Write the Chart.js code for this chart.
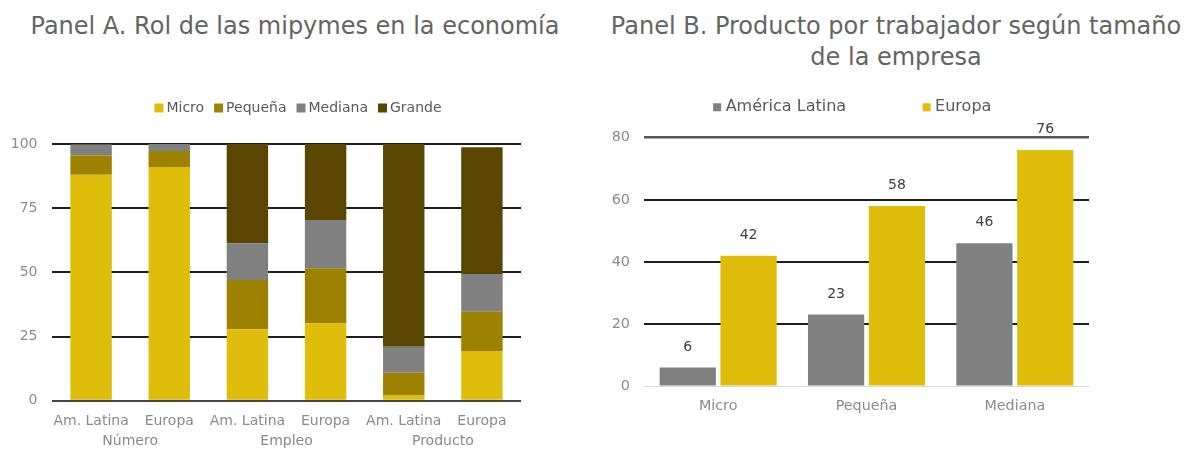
<!DOCTYPE html>
<html><head><meta charset="utf-8">
<script src="https://cdn.jsdelivr.net/npm/chart.js@4.4.0/dist/chart.umd.min.js"></script>
<style>
html,body{margin:0;padding:0;background:#fff;width:1189px;height:457px;overflow:hidden;}
.title{position:absolute;font-family:"DejaVu Sans";font-size:24px;color:#646464;text-align:center;white-space:nowrap;line-height:31px;}
canvas{position:absolute;}
</style></head><body>
<div class="title" style="left:0;width:590px;top:11px;">Panel A. Rol de las mipymes en la economía</div>
<div class="title" style="left:596px;width:600px;top:11px;">Panel B. Producto por trabajador según tamaño<br>de la empresa</div>
<canvas id="cA" width="590" height="367" style="left:0;top:90px;"></canvas>
<canvas id="cB" width="497" height="367" style="left:600px;top:90px;"></canvas>
<script>
// ---- Panel A data ----
const groupLabels = ['Número', 'Empleo', 'Producto'];
const regionLabels = ['Am. Latina', 'Europa', 'Am. Latina', 'Europa', 'Am. Latina', 'Europa'];
const sizeNames = ['Micro', 'Pequeña', 'Mediana', 'Grande'];
const micro   = [88.0, 91.0, 27.8, 30.2,  2.2, 19.4];
const pequena = [ 7.5,  6.3, 19.2, 21.4,  8.7, 15.3];
const mediana = [ 4.3,  2.7, 14.3, 18.8, 10.1, 14.7];
const grande  = [ 0.2,  0.0, 38.7, 29.6, 79.0, 49.3];
const yTicksA = [0, 25, 50, 75, 100];

// ---- Panel B data ----
const sizeCategoriesB = ['Micro', 'Pequeña', 'Mediana'];
const seriesBNames = ['América Latina', 'Europa'];
const latam  = [6, 23, 46];
const europa = [42, 58, 76];
const yTicksB = [0, 20, 40, 60, 80];

Chart.defaults.font.family = '"DejaVu Sans"';
Chart.defaults.animation = false;

const YELLOW = '#DEBD0B', OLIVE = '#9D8100', GREY = '#808080', DARK = '#5A4600';
const TICK = '#8a8a8a', LEGTXT = '#595959';

function legendGap(extra) {
  return { id: 'legendGap', afterInit(chart) {
    const lg = chart.legend; if (!lg) return;
    const orig = lg.fit;
    lg.fit = function () { orig.call(this); this.height += extra; };
  }};
}

const valueLabels = { id: 'valueLabels', afterDatasetsDraw(chart) {
  const ctx = chart.ctx; ctx.save();
  ctx.font = '14px "DejaVu Sans"'; ctx.fillStyle = '#404040';
  ctx.textAlign = 'center'; ctx.textBaseline = 'middle';
  chart.data.datasets.forEach((ds, i) => {
    chart.getDatasetMeta(i).data.forEach((bar, j) => {
      ctx.fillText(String(ds.data[j]), bar.x, bar.y - 20.5);
    });
  });
  ctx.restore();
}};

// ---- Panel A chart ----
const colorsA = [YELLOW, OLIVE, GREY, DARK];
const valuesA = [micro, pequena, mediana, grande];
new Chart(document.getElementById('cA'), {
  type: 'bar',
  data: {
    labels: regionLabels,
    datasets: sizeNames.map((n, i) => ({
      label: n, data: valuesA[i], backgroundColor: colorsA[i], borderWidth: 0,
      barPercentage: 0.53, categoryPercentage: 1.0
    }))
  },
  options: {
    responsive: false,
    layout: { padding: { left: 10, right: 0, top: -3, bottom: 0 } },
    plugins: {
      tooltip: { enabled: false },
      legend: { position: 'top', labels: { color: LEGTXT, font: { size: 14 }, usePointStyle: true, pointStyle: 'rect', boxWidth: 1, boxHeight: 9, padding: 14 } }
    },
    scales: {
      x: { stacked: true, grid: { display: false, drawTicks: false }, border: { display: false },
           ticks: { color: TICK, font: { size: 14 }, padding: 12, maxRotation: 0, autoSkip: false },
           afterFit: s => { s.height = 30; } },
      x2: { type: 'category', labels: groupLabels, position: 'bottom', offset: true,
            grid: { display: false, drawTicks: false }, border: { display: false },
            ticks: { color: TICK, font: { size: 14 }, padding: 2, maxRotation: 0 },
            afterFit: s => { s.height = 26.3; } },
      y: { stacked: true, min: yTicksA[0], max: yTicksA[yTicksA.length - 1],
           ticks: { stepSize: yTicksA[1] - yTicksA[0], color: TICK, font: { size: 14 }, padding: 14.5 },
           grid: { drawTicks: false, lineWidth: 2, color: c => c.tick && c.tick.value === 0 ? '#454545' : '#1e1e1e' },
           border: { display: false },
           afterFit: s => { s.width = 42; } },
      yR: { position: 'right', display: true, grid: { display: false, drawTicks: false }, border: { display: false },
            ticks: { display: false }, afterFit: s => { s.width = 69; } }
    }
  },
  plugins: [legendGap(19)]
});

// ---- Panel B chart ----
const colorsB = [GREY, YELLOW];
const valuesB = [latam, europa];
new Chart(document.getElementById('cB'), {
  type: 'bar',
  data: {
    labels: sizeCategoriesB,
    datasets: seriesBNames.map((n, i) => ({
      label: n, data: valuesB[i], backgroundColor: colorsB[i], borderWidth: 0,
      barPercentage: 0.925, categoryPercentage: 0.82
    }))
  },
  options: {
    responsive: false,
    layout: { padding: { left: 11, right: 0, top: -70.7, bottom: 0 } },
    plugins: {
      tooltip: { enabled: false },
      legend: { position: 'top', labels: { color: LEGTXT, font: { size: 16 }, usePointStyle: true, pointStyle: 'rect', boxWidth: 1, boxHeight: 8, padding: 80 } }
    },
    scales: {
      x: { grid: { display: false, drawTicks: false }, border: { display: false },
           ticks: { color: TICK, font: { size: 14.3 }, padding: 12, maxRotation: 0 },
           afterFit: s => { s.height = 71; } },
      y: { min: yTicksB[0], max: yTicksB[yTicksB.length - 1],
           ticks: { stepSize: yTicksB[1] - yTicksB[0], color: TICK, font: { size: 14.4 }, padding: 14 },
           grid: { drawTicks: false,
                   lineWidth: c => c.tick && c.tick.value === 0 ? 1 : (c.tick && c.tick.value === 80 ? 2.5 : 2),
                   color: c => c.tick && c.tick.value === 0 ? '#d9d9d9' : (c.tick && c.tick.value === 80 ? '#575757' : '#1e1e1e') },
           border: { display: false },
           afterFit: s => { s.width = 33; } },
      yR: { position: 'right', display: true, grid: { display: false, drawTicks: false }, border: { display: false },
            ticks: { display: false }, afterFit: s => { s.width = 8; } }
    }
  },
  plugins: [legendGap(12.4), valueLabels]
});
</script>
</body></html>
